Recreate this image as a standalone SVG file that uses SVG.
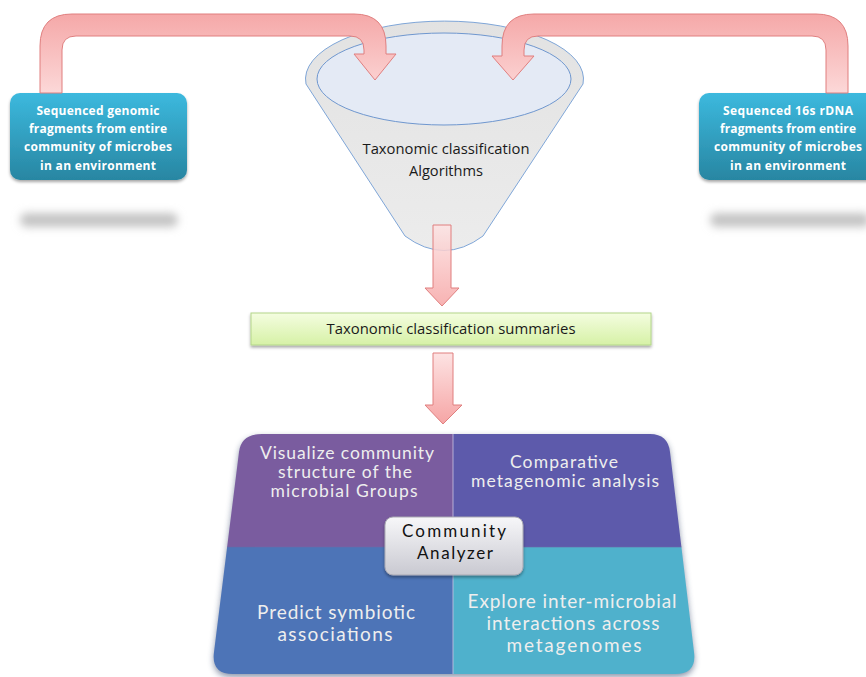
<svg xmlns="http://www.w3.org/2000/svg" width="866" height="677" viewBox="0 0 866 677">
<defs>
<style>
.boxtxt{font-family:"Open Sans","Liberation Sans",sans-serif;font-weight:bold;font-size:12px;fill:#ffffff;text-anchor:middle}
.dark{font-family:"Open Sans","Liberation Sans",sans-serif;font-size:14px;fill:#1a1a1a;text-anchor:middle}
.quad{font-family:Lato,"Open Sans",sans-serif;fill:#eeeeee;text-anchor:middle}
.q1{font-size:17.5px}
.q2{font-size:19px}
.ctr{font-family:Lato,"Open Sans",sans-serif;font-size:17px;fill:#111111;text-anchor:middle}
.arrow{stroke:#e07f7f;stroke-width:1}
</style>
<linearGradient id="teal" x1="0" y1="0" x2="0" y2="1">
<stop offset="0" stop-color="#3cb9de"/>
<stop offset="1" stop-color="#2886a2"/>
</linearGradient>
<linearGradient id="bend" x1="0" y1="0" x2="0" y2="1">
<stop offset="0" stop-color="#f5a8a8"/>
<stop offset="1" stop-color="#fcd8d8"/>
</linearGradient>
<linearGradient id="down" x1="0" y1="0" x2="0" y2="1">
<stop offset="0" stop-color="#fde3e3"/>
<stop offset="1" stop-color="#f6a5a5"/>
</linearGradient>
<linearGradient id="funnel" x1="0" y1="0" x2="0" y2="1">
<stop offset="0" stop-color="#e2e2e2"/>
<stop offset="1" stop-color="#ececec"/>
</linearGradient>
<linearGradient id="green" x1="0" y1="0" x2="0" y2="1">
<stop offset="0" stop-color="#f4fde0"/>
<stop offset="1" stop-color="#d6f1a6"/>
</linearGradient>
<linearGradient id="silver" x1="0" y1="0" x2="0" y2="1">
<stop offset="0" stop-color="#f7f7f9"/>
<stop offset="1" stop-color="#c9c9d1"/>
</linearGradient>
<filter id="blur" x="-20%" y="-150%" width="140%" height="400%">
<feGaussianBlur stdDeviation="4"/>
</filter>
<filter id="blur2" x="-10%" y="-10%" width="120%" height="120%">
<feGaussianBlur stdDeviation="3"/>
</filter>
<filter id="shadow" x="-10%" y="-10%" width="120%" height="130%">
<feDropShadow dx="0" dy="2" stdDeviation="1.5" flood-color="#000" flood-opacity="0.35"/>
</filter>
<clipPath id="blockClip">
<path d="M262,434 H650 Q668,434 670,452 L694,652 Q697,674 675,674 H233 Q211,674 214,652 L239,452 Q241,434 262,434 Z"/>
</clipPath>
</defs>
<rect width="866" height="677" fill="#ffffff"/>

<!-- reflections under source boxes -->
<rect x="20" y="213" width="158" height="14" rx="7" fill="#c4c4c4" filter="url(#blur)"/>
<rect x="710" y="213" width="160" height="14" rx="7" fill="#c4c4c4" filter="url(#blur)"/>

<g id="funnel-node">
<path d="M306,84 L405,236 Q444,265 483,236 L583,84 A139 58 0 1 0 306,84 Z" fill="url(#funnel)" stroke="#7fa6d8" stroke-width="1"/>
<ellipse cx="444" cy="79" rx="127" ry="46" fill="#e4eaf5" stroke="#6f97cf" stroke-width="1"/>
<text class="dark" x="446" y="154" textLength="167" lengthAdjust="spacingAndGlyphs">Taxonomic classification</text>
<text class="dark" x="446" y="176" textLength="74" lengthAdjust="spacingAndGlyphs">Algorithms</text>
</g>

<g id="left-source">
<rect x="10" y="93" width="177" height="87" rx="10" fill="url(#teal)" filter="url(#shadow)"/>
<text class="boxtxt" x="98" y="115" textLength="123">Sequenced genomic</text>
<text class="boxtxt" x="98" y="133" textLength="138">fragments from entire</text>
<text class="boxtxt" x="98" y="151" textLength="148">community of microbes</text>
<text class="boxtxt" x="98" y="170" textLength="116">in an environment</text>
</g>

<g id="right-source">
<rect x="699" y="93" width="178" height="87" rx="10" fill="url(#teal)" filter="url(#shadow)"/>
<text class="boxtxt" x="788" y="115" textLength="130">Sequenced 16s rDNA</text>
<text class="boxtxt" x="788" y="133" textLength="136">fragments from entire</text>
<text class="boxtxt" x="788" y="151" textLength="148">community of microbes</text>
<text class="boxtxt" x="788" y="170" textLength="116">in an environment</text>
</g>

<g id="summaries">
<rect x="251" y="313" width="400" height="32" fill="url(#green)" stroke="#b3d68a" stroke-width="1" filter="url(#shadow)"/>
<text class="dark" x="451" y="334" textLength="249" lengthAdjust="spacingAndGlyphs">Taxonomic classification summaries</text>
</g>

<g id="connectors">
<path class="arrow" d="M40,93 V46 Q40,14 72,14 H354 Q386,14 386,46 V54 H396 L375,80 L354,54 H364 V50 Q364,36 350,36 H76 Q62,36 62,50 V93 Z" fill="url(#bend)"/>
<path class="arrow" d="M848,93 V46 Q848,14 816,14 H534 Q502,14 502,46 V56 H492 L513,80 L534,56 H524 V50 Q524,36 538,36 H812 Q826,36 826,50 V93 Z" fill="url(#bend)"/>
<path class="arrow" d="M433,225 H451 V288 H459 L442,306 L425,288 H433 Z" fill="url(#down)" fill-opacity="0.85"/>
<path class="arrow" d="M433,353 H453 V405 H462 L443,424 L425,405 H433 Z" fill="url(#down)"/>
</g>

<g id="community-analyzer">
<path d="M262,437 H650 Q668,437 670,455 L694,655 Q697,677 675,677 H233 Q211,677 214,655 L239,455 Q241,437 262,437 Z" fill="#2f3f66" opacity="0.55" filter="url(#blur2)"/>
<g clip-path="url(#blockClip)">
<rect x="200" y="430" width="253" height="117" fill="#7a5c9f"/>
<rect x="453" y="430" width="250" height="117" fill="#5d5aab"/>
<rect x="200" y="547" width="253" height="130" fill="#4d74b7"/>
<rect x="453" y="547" width="250" height="130" fill="#4fb1cc"/>
<line x1="453" y1="430" x2="453" y2="677" stroke="#c7bfe0" stroke-width="1.2" opacity="0.7"/>
<line x1="200" y1="547" x2="703" y2="547" stroke="#6d6aa8" stroke-width="1" opacity="0.6"/>
</g>
<text class="quad q1" x="347" y="459" textLength="174">Visualize community</text>
<text class="quad q1" x="345" y="478" textLength="134">structure of the</text>
<text class="quad q1" x="344" y="497" textLength="147">microbial Groups</text>
<text class="quad q1" x="564" y="468" textLength="108">Comparative</text>
<text class="quad q1" x="565" y="487" textLength="188">metagenomic analysis</text>
<text class="quad q2" x="336" y="619" textLength="158">Predict symbiotic</text>
<text class="quad q2" x="335" y="641" textLength="115">associations</text>
<text class="quad q2" x="572" y="608" textLength="209">Explore inter-microbial</text>
<text class="quad q2" x="573" y="630" textLength="173">interactions across</text>
<text class="quad q2" x="574" y="652" textLength="135">metagenomes</text>
<g id="center-box">
<rect x="385" y="517" width="138" height="58" rx="8" fill="url(#silver)" stroke="#a9a9b3" stroke-width="1" filter="url(#shadow)"/>
<text class="ctr" x="454" y="537" textLength="104">Community</text>
<text class="ctr" x="455" y="559" textLength="76">Analyzer</text>
</g>
</g>
</svg>
